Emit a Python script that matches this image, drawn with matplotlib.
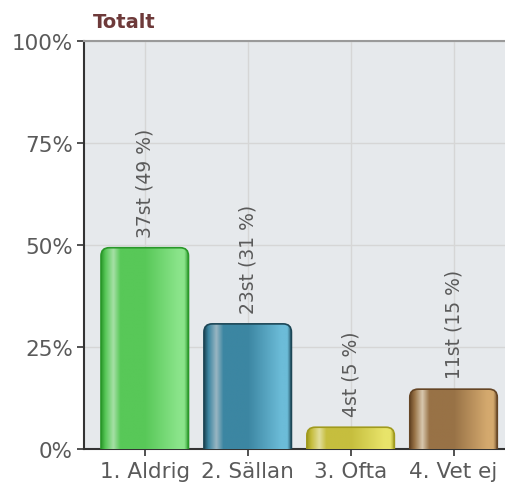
import numpy as np
import matplotlib.pyplot as plt
from matplotlib.colors import LinearSegmentedColormap
from matplotlib.patches import FancyBboxPatch

categories = ["1. Aldrig", "2. Sällan", "3. Ofta", "4. Vet ej"]
counts = [37, 23, 4, 11]
total = sum(counts)
percents = [100 * c / total for c in counts]
labels = [f"{c}st ({round(p)} %)" for c, p in zip(counts, percents)]
yticks = [0, 25, 50, 75, 100]
ytick_labels = ["0%", "25%", "50%", "75%", "100%"]

# border, highlight, mid, right-light
bar_colors = [
    ["#2a982a", "#a6e0a6", "#58c858", "#8ae48a"],
    ["#1c4656", "#9ab6c2", "#3c86a2", "#6cbcd8"],
    ["#a09a1e", "#e2de9c", "#c6be3e", "#e8e46a"],
    ["#664626", "#d8c8ae", "#987246", "#d4a96e"],
]

plt.rcParams["font.family"] = ["DejaVu Sans"]

fig = plt.figure(figsize=(5.05, 4.89), dpi=100)
ax = fig.add_axes([84 / 505, 39 / 489, 421 / 505, 408 / 489])
ax.set_facecolor("#e6e9ec")

x = np.arange(len(categories))
bars = ax.bar(x, percents, width=0.85, color="none", zorder=2)

ax.set_xlim(-0.59, 3.5)
ax.set_ylim(0, 100)

# rounded tops: radius in x units, aspect for y
px_x = 421 / 4.09
px_y = 408 / 100
aspect = px_x / px_y
for bar, cols in zip(bars, bar_colors):
    x0 = bar.get_x()
    w = bar.get_width()
    h = bar.get_height()
    patch = FancyBboxPatch((x0, -5), w, h + 5,
                           boxstyle="round,pad=0,rounding_size=0.08",
                           mutation_aspect=aspect,
                           facecolor="none", edgecolor=cols[0], lw=1.2, zorder=4)
    ax.add_patch(patch)
    cmap = LinearSegmentedColormap.from_list(
        "g", [(0, cols[0]), (0.05, cols[2]), (0.14, cols[1]), (0.22, cols[2]),
              (0.5, cols[2]), (0.88, cols[3]), (0.95, cols[3]), (1, cols[0])])
    grad = np.linspace(0, 1, 256).reshape(1, -1)
    im = ax.imshow(grad, extent=[x0, x0 + w, -5, h], aspect="auto",
                   cmap=cmap, zorder=3, interpolation="bilinear")
    im.set_clip_path(patch)

for xi, p, lab in zip(x, percents, labels):
    ax.annotate(lab, (xi, p), xytext=(0, 8), textcoords="offset points",
                rotation=90, ha="center", va="bottom", fontsize=13.5,
                color="#5a5a5a", zorder=5)

ax.set_xticks(x)
ax.set_xticklabels(categories)
ax.set_yticks(yticks)
ax.set_yticklabels(ytick_labels)
ax.tick_params(axis="both", labelsize=15.5, colors="#333333", labelcolor="#5a5a5a",
               length=5, width=1.2)
ax.tick_params(axis="x", pad=4)
ax.tick_params(axis="y", pad=3)

ax.grid(True, color="#d6d6d6", lw=1, zorder=0)
ax.set_axisbelow(True)

ax.spines["right"].set_visible(False)
ax.spines["top"].set_color("#9a9a9a")
ax.spines["top"].set_linewidth(1.5)
ax.spines["left"].set_color("#333333")
ax.spines["left"].set_linewidth(1.5)
ax.spines["bottom"].set_color("#333333")
ax.spines["bottom"].set_linewidth(1.5)

fig.text(93 / 505, 1 - 22 / 489, "Totalt", fontsize=14, fontweight="bold",
         color="#6e3a3a", ha="left", va="center")

fig.savefig("out.png", dpi=100)
